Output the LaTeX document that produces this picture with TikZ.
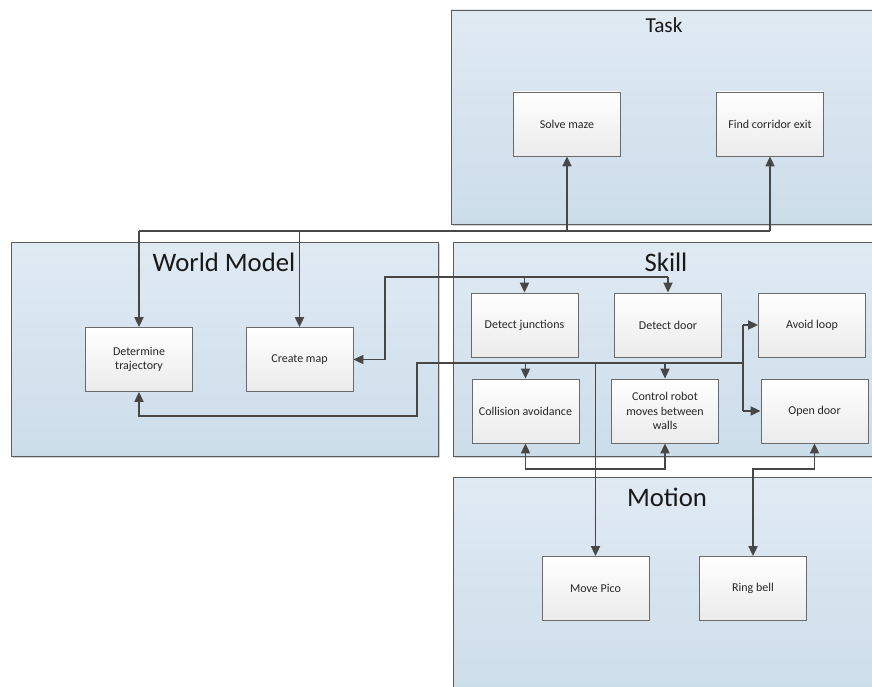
\documentclass[tikz,border=0pt]{standalone}
\usepackage{fontspec}
\setmainfont{Carlito}
\usetikzlibrary{arrows.meta}
\definecolor{conncol}{HTML}{474747}
\definecolor{boxline}{HTML}{6A6A6A}
\definecolor{paneltop}{HTML}{E0EAF3}
\definecolor{panelbot}{HTML}{CCDDEA}
\definecolor{panelline}{HTML}{5C5C5C}
\definecolor{boxbot}{HTML}{EBEBEB}
\tikzset{
  panel/.style={draw=panelline, line width=0.9pt, top color=paneltop, bottom color=panelbot},
  panelshadow/.style={fill=black!18, draw=none},
  stepbox/.style={draw=boxline, line width=0.8pt, top color=white, bottom color=boxbot,
    minimum width=107pt, minimum height=64pt, inner sep=2pt, align=center,
    font=\fontsize{12}{14.5}\selectfont, text=black!85},
  bigtitle/.style={font=\fontsize{26.7}{30}\selectfont, text=black!90, inner sep=0pt},
  smalltitle/.style={font=\fontsize{21.3}{24}\selectfont, text=black!90, inner sep=0pt},
  conn/.style={draw=conncol, line width=1.8pt},
  tip/.style={-{Triangle[length=10pt,width=9pt]}},
  dtip/.style={{Triangle[length=10pt,width=9pt]}-{Triangle[length=10pt,width=9pt]}}
}
\begin{document}
\begin{tikzpicture}[x=1pt,y=-1pt]
\useasboundingbox (0,0) rectangle (872,687);
\clip (0,0) rectangle (872,687);
\fill[white] (0,0) rectangle (872,687);
% panel shadows
\fill[panelshadow] (453,12) rectangle (882,226);
\fill[panelshadow] (13,244) rectangle (440,458);
\fill[panelshadow] (455,244) rectangle (882,458);
\fill[panelshadow] (455,479) rectangle (882,702);
% panels
\path[panel] (451,10) rectangle (880,224);
\path[panel] (11,242) rectangle (438,456);
\path[panel] (453,242) rectangle (880,456);
\path[panel] (453,477) rectangle (880,700);
% titles
\node[smalltitle] (ttask) at (664,25) {Task};
\node[bigtitle] (tworld) at (224,262) {World Model};
\node[bigtitle] (tskill) at (666,262) {Skill};
\node[bigtitle] (tmotion) at (667,497) {Motion};
% boxes
\node[stepbox] (solve) at (567,124) {Solve maze};
\node[stepbox] (find) at (770,124) {Find corridor exit};
\node[stepbox] (det) at (139,359.5) {Determine\\trajectory};
\node[stepbox] (map) at (299.5,359.5) {Create map};
\node[stepbox] (junc) at (524.5,325) {Detect junctions};
\node[stepbox] (door) at (668,325) {Detect door};
\node[stepbox] (loop) at (812,325) {Avoid loop};
\node[stepbox] (coll) at (525.5,411) {Collision avoidance};
\node[stepbox] (ctrl) at (665,411) {Control robot\\moves between\\walls};
\node[stepbox] (open) at (814.5,411) {Open door};
\node[stepbox] (pico) at (595.5,588.5) {Move Pico};
\node[stepbox] (bell) at (753,588.5) {Ring bell};
% bus coordinates
\coordinate (busA) at (0,231);
\coordinate (busB) at (0,277);
\coordinate (busC) at (0,363);
\coordinate (busD) at (0,469);
\coordinate (cB) at (385,277);
\coordinate (cC) at (417,363);
\coordinate (cCd) at (417,416);
\coordinate (cCr) at (743,363);
\coordinate (cL) at (743,325);
\coordinate (cO) at (743,411);
% bus A: task <-> world model
\draw[conn] (det.north |- busA) -- (find.south |- busA);
\draw[conn,tip] (det.north |- busA) -- (det.north);
\draw[conn,tip] (map.north |- busA) -- (map.north);
\draw[conn,tip] (solve.south |- busA) -- (solve.south);
\draw[conn,tip] (find.south |- busA) -- (find.south);
% bus B: create map / detect junctions / detect door
\draw[conn,tip] (door.north |- busB) -- (cB) -- (cB |- map.east) -- (map.east);
\draw[conn,tip] (junc.north |- busB) -- (junc.north);
\draw[conn,tip] (door.north |- busB) -- (door.north);
% bus C
\draw[conn,tip] (cCr) -- (cC) -- (cCd) -- (det.south |- cCd) -- (det.south);
\draw[conn,tip] (coll.north |- busC) -- (coll.north);
\draw[conn,tip] (ctrl.north |- busC) -- (ctrl.north);
\draw[conn] (cL) -- (cO);
\draw[conn,tip] (cL) -- (loop.west);
\draw[conn,tip] (cO) -- (open.west);
\draw[conn,tip] (pico.north |- busC) -- (pico.north);
% bus D
\draw[conn,dtip] (coll.south) -- (coll.south |- busD) -- (ctrl.south |- busD) -- (ctrl.south);
\draw[conn,dtip] (bell.north) -- (bell.north |- busD) -- (open.south |- busD) -- (open.south);
\end{tikzpicture}
\end{document}
